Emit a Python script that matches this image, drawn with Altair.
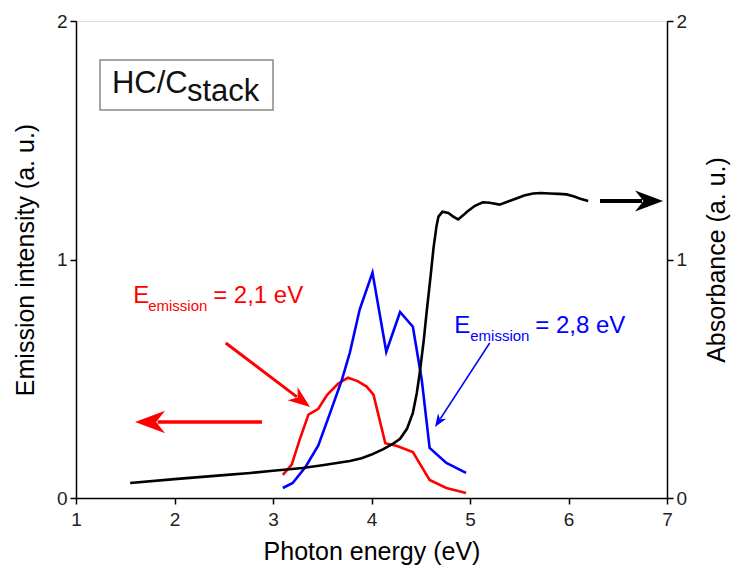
import math
import altair as alt
import pandas as pd

# ---------------- data ----------------
abs_x = [1.55, 2.0, 2.5, 2.77, 3.0, 3.3, 3.5, 3.78, 3.9, 4.0, 4.12, 4.22, 4.29, 4.36, 4.42, 4.46,
         4.49, 4.53, 4.56, 4.60, 4.63, 4.66, 4.68, 4.72, 4.78, 4.83, 4.88, 4.93, 4.97, 5.05,
         5.13, 5.2, 5.3, 5.4, 5.47, 5.55, 5.64, 5.72, 5.81, 5.9, 5.98, 6.05, 6.12, 6.2]
abs_y = [0.063, 0.079, 0.096, 0.105, 0.114, 0.126, 0.137, 0.155, 0.167, 0.182, 0.205, 0.228, 0.248,
         0.29, 0.357, 0.44, 0.525, 0.66, 0.78, 0.93, 1.05, 1.14, 1.18, 1.20, 1.195, 1.18, 1.168,
         1.185, 1.20, 1.225, 1.24, 1.238, 1.23, 1.245, 1.256, 1.268, 1.277, 1.279, 1.277, 1.275,
         1.273, 1.265, 1.255, 1.245]

red_x = [3.10, 3.19, 3.27, 3.36, 3.46, 3.55, 3.66, 3.76, 3.86, 3.95, 4.02, 4.14, 4.26, 4.42,
         4.59, 4.76, 4.96]
red_y = [0.097, 0.14, 0.244, 0.35, 0.374, 0.433, 0.479, 0.504, 0.49, 0.467, 0.433, 0.23,
         0.218, 0.193, 0.076, 0.042, 0.021]

blue_x = [3.10, 3.20, 3.33, 3.46, 3.58, 3.70, 3.78, 3.88, 4.01, 4.15, 4.29, 4.42, 4.51, 4.59,
          4.76, 4.96]
blue_y = [0.042, 0.063, 0.13, 0.22, 0.357, 0.496, 0.609, 0.79, 0.945, 0.613, 0.78, 0.718,
          0.496, 0.21, 0.147, 0.105]

x_ticks = [1, 2, 3, 4, 5, 6, 7]
y_ticks = [0, 0.5, 1, 1.5, 2]   # half steps are hidden below; only 0, 1, 2 are shown

# annotation arrows: start (x, y) and tip (x, y)
red_h_arrow = [(2.888, 0.319), (1.60, 0.319)]
red_d_arrow = [(2.52, 0.650), (3.376, 0.382)]
blue_arrow = [(5.20, 0.650), (4.645, 0.298)]
black_arrow = [(6.32, 1.245), (6.96, 1.245)]

red_label = ["E", "emission", "= 2,1 eV"]
red_label_at = (1.58, 0.818)
blue_label = ["E", "emission", "= 2,8 eV"]
blue_label_at = (4.84, 0.692)
box_label = ["HC/C", "stack"]
box_label_at = (1.365, 1.698)
box_rect = (1.244, 3.0, 1.627, 1.836)

# ---------------- layout ----------------
W, H = 591, 477
PXX = W / 6.0
PXY = H / 2.0
FONT = "Liberation Sans"

xs = alt.Scale(domain=[1, 7], nice=False, zero=False)
ys = alt.Scale(domain=[0, 2], nice=False, zero=False)

common_axis = dict(domainColor="black", domainWidth=1.5, tickColor="black", tickWidth=1.5,
                   tickSize=6, labelFont=FONT, labelFontSize=19, labelColor="#222",
                   titleFont=FONT, titleFontSize=25, titleFontWeight="normal",
                   titleColor="black", grid=False, labelOverlap=False, labelFlush=False)

HIDE = "datum.value % 1 != 0"
y_common = dict(values=y_ticks,
                labelExpr="datum.value % 1 != 0 ? '' : format(datum.value, 'd')",
                tickOpacity={"condition": {"test": HIDE, "value": 0}, "value": 1},
                labelPadding=3, **common_axis)

x_axis = alt.Axis(values=x_ticks, title="Photon energy (eV)", labelPadding=6,
                  titlePadding=10, format="d", **common_axis)
yl_axis = alt.Axis(title="Emission intensity (a. u.)", orient="left", titlePadding=18, **y_common)
yr_axis = alt.Axis(title="Absorbance (a. u.)", orient="right", titlePadding=18,
                   titleAngle=270, titleBaseline="top", **y_common)

X = alt.X("x:Q", scale=xs, axis=x_axis)
YL = alt.Y("y:Q", scale=ys, axis=yl_axis)
YR = alt.Y("y:Q", scale=ys, axis=yr_axis)

HEAD = "M0,0 L-2,-0.75 L-1.4,0 L-2,0.75 Z"


def arrow(pts, color, width, head_len, yenc):
    (x0, y0), (x1, y1) = pts
    dxp = (x1 - x0) * PXX
    dyp = -(y1 - y0) * PXY
    L = math.hypot(dxp, dyp)
    ang = math.degrees(math.atan2(dyp, dxp)) % 360
    back = head_len * 0.75
    xe = x1 - (x1 - x0) * back / L
    ye = y1 - (y1 - y0) * back / L
    shaft = alt.Chart(pd.DataFrame({"x": [x0], "y": [y0], "x2": [xe], "y2": [ye]})).mark_rule(
        color=color, strokeWidth=width).encode(x=X, y=yenc, x2="x2:Q", y2="y2:Q")
    head = alt.Chart(pd.DataFrame({"x": [x1], "y": [y1]})).mark_point(
        shape=HEAD, filled=True, opacity=1, color=color, size=head_len ** 2,
        angle=round(ang, 1), strokeWidth=0).encode(x=X, y=yenc)
    return [shaft, head]


def sub_label(parts, at, color, size, sub_size, sub_dx, rest_dx, sub_dy):
    df = pd.DataFrame({"x": [at[0]], "y": [at[1]]})
    base = alt.Chart(df)
    m1 = base.mark_text(text=parts[0], align="left", baseline="alphabetic", font=FONT,
                        fontSize=size, color=color).encode(x=X, y=YL)
    m2 = base.mark_text(text=parts[1], align="left", baseline="alphabetic", font=FONT,
                        fontSize=sub_size, color=color, dx=sub_dx, dy=sub_dy).encode(x=X, y=YL)
    out = [m1, m2]
    if len(parts) > 2:
        m3 = base.mark_text(text=parts[2], align="left", baseline="alphabetic", font=FONT,
                            fontSize=size, color=color, dx=rest_dx).encode(x=X, y=YL)
        out.append(m3)
    return out


red_df = pd.DataFrame({"x": red_x, "y": red_y})
blue_df = pd.DataFrame({"x": blue_x, "y": blue_y})
abs_df = pd.DataFrame({"x": abs_x, "y": abs_y})

red_line = alt.Chart(red_df).mark_line(color="#ff0000", strokeWidth=2.6).encode(x=X, y=YL)
blue_line = alt.Chart(blue_df).mark_line(color="#0000ff", strokeWidth=2.6).encode(x=X, y=YL)

box = alt.Chart(pd.DataFrame({"x": [box_rect[0]], "x2": [box_rect[1]],
                              "y": [box_rect[2]], "y2": [box_rect[3]]})).mark_rect(
    fill="white", stroke="#888888", strokeWidth=1.5).encode(x=X, x2="x2:Q", y=YL, y2="y2:Q")

left_layers = [red_line, blue_line, box]
left_layers += arrow(red_h_arrow, "#ff0000", 3.5, 30, YL)
left_layers += arrow(red_d_arrow, "#ff0000", 3, 22, YL)
left_layers += arrow(blue_arrow, "#0000ff", 1.5, 13, YL)
left_layers += sub_label(red_label, red_label_at, "#ff0000", 24, 15, 15, 80, 8)
left_layers += sub_label(blue_label, blue_label_at, "#0000ff", 24, 15, 16, 81, 8)
left_layers += sub_label(box_label, box_label_at, "#111111", 31, 31, 75, 0, 8)

left = alt.layer(*left_layers)

abs_line = alt.Chart(abs_df).mark_line(color="black", strokeWidth=2.6).encode(x=X, y=YR)
right = alt.layer(abs_line, *arrow(black_arrow, "black", 4, 28, YR))

chart = alt.layer(left, right).resolve_scale(y="independent").properties(
    width=W, height=H,
    autosize=alt.AutoSizeParams(type="none"),
    padding={"left": 68, "top": 13, "right": 70, "bottom": 71},
).configure_view(stroke="black", strokeWidth=1.5).configure(background="white")

chart.save("out.html", embed_options={"renderer": "svg", "actions": False})
